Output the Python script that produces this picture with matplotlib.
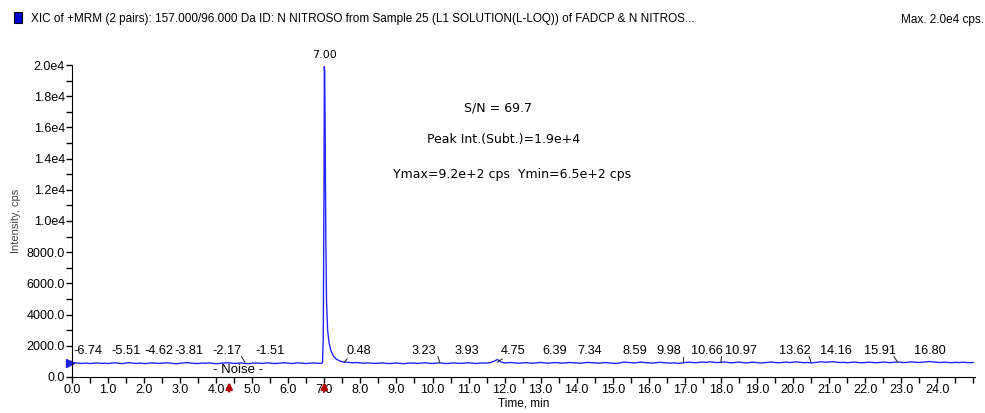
import matplotlib.pyplot as plt
from matplotlib.patches import Rectangle
from matplotlib.ticker import MultipleLocator, FuncFormatter
import numpy as np

narrow = ['Liberation Sans Narrow', 'Liberation Sans', 'DejaVu Sans']
plt.rcParams['font.family'] = narrow

# chromatogram (cps)
base_before = [930, 905, 880, 870, 895, 860, 885, 900, 870, 880,
               865, 890, 905, 875, 860, 900, 915, 880, 870, 890,
               860, 875, 905, 890, 870, 885, 910, 895, 865, 850,
               880, 905, 920, 890, 870, 860, 895, 880, 905, 875,
               850, 870, 890, 915, 895, 870, 880, 900, 865, 855,
               885, 900, 880, 870, 905, 890, 860, 875, 895, 910,
               880, 865, 890, 905, 875, 860, 885, 900, 880, 870]
peak_times = [6.95, 6.97, 6.99, 7.00, 7.01, 7.02, 7.04, 7.06, 7.09, 7.13,
              7.18, 7.25, 7.33, 7.42, 7.52]
peak_vals = [920, 2500, 12000, 19900, 19500, 16500, 9200, 4900, 3000, 2200,
             1700, 1350, 1150, 1030, 960]
base_after = [950, 930, 910, 925, 900, 880, 905, 890, 870, 885,
              900, 875, 860, 880, 895, 870, 855, 880, 900, 885,
              870, 895, 910, 880, 865, 890, 905, 875, 860, 885,
              900, 880, 870, 895, 910, 885, 865, 880, 900, 890,
              920, 1000, 1120, 960, 900, 915, 930, 895, 880, 905,
              920, 895, 880, 910, 935, 905, 885, 900, 925, 910,
              890, 905, 930, 915, 895, 880, 910, 935, 920, 900,
              885, 905, 925, 900, 880, 870, 895, 960, 940, 915,
              900, 935, 955, 920, 905, 890, 915, 940, 925, 900,
              885, 910, 870, 895, 925, 950, 930, 915, 940, 960,
              935, 975, 950, 920, 945, 965, 930, 910, 935, 955,
              925, 900, 930, 950, 920, 895, 915, 940, 960, 930,
              910, 935, 955, 925, 945, 970, 940, 915, 930, 900,
              925, 950, 975, 945, 960, 985, 950, 925, 940, 915,
              935, 955, 930, 910, 925, 950, 935, 910, 930, 955,
              940, 920, 945, 965, 940, 925, 950, 970, 945, 930,
              955, 975, 990, 960, 940, 925, 950, 935, 915, 940,
              925, 945, 930, 915, 930]

t_before = np.round(np.arange(len(base_before)) * 0.1, 2)
t_after = np.round(7.6 + np.arange(len(base_after)) * 0.1, 2)
time = np.concatenate([t_before, peak_times, t_after])
intensity = np.concatenate([base_before, peak_vals, base_after])

# peak labels as shown by the software: text, where the label sits, where its hook points
peak_labels = ['-6.74', '-5.51', '-4.62', '-3.81', '-2.17', '-1.51', '0.48', '3.23',
               '3.93', '4.75', '6.39', '7.34', '8.59', '9.98', '10.66', '10.97',
               '13.62', '14.16', '15.91', '16.80']
label_x = [0.45, 1.5, 2.4, 3.25, 4.3, 5.5, 7.95, 9.75, 10.95, 12.25, 13.4, 14.35,
           15.6, 16.55, 17.62, 18.55, 20.05, 21.2, 22.4, 23.8]
hook_x = [None, None, None, None, 4.8, None, 7.55, 10.2, None, 11.8, None, None,
          None, 16.95, 18.0, None, 20.5, None, 22.9, None]

fig = plt.figure(figsize=(9.85, 4.13), dpi=100)
ax = fig.add_axes([0.0731, 0.0872, 0.9168, 0.7554])

ax.plot(time, intensity, color='#2424ff', lw=1.0)
ax.plot([-0.05], [900], marker='>', color='#2020e0', ms=6, clip_on=False)

ax.set_xlim(0, 25.05)
ax.set_ylim(0, 20000)
for s in ['top', 'right']:
    ax.spines[s].set_visible(False)
ax.xaxis.set_major_locator(MultipleLocator(1.0))
ax.xaxis.set_minor_locator(MultipleLocator(0.5))
ax.yaxis.set_major_locator(MultipleLocator(2000))
ax.yaxis.set_minor_locator(MultipleLocator(1000))
ax.xaxis.set_major_formatter(FuncFormatter(lambda v, p: '%.1f' % v if v < 24.5 else ''))
ax.yaxis.set_major_formatter(FuncFormatter(lambda v, p: '%.1f' % v if v < 9000 else '%.1fe4' % (v / 1e4)))
ax.tick_params(which='both', direction='out', length=4, width=1, labelsize=9, pad=1)
ax.set_xlabel('Time, min', fontsize=8.5, labelpad=1)
ax.set_ylabel('Intensity, cps', fontsize=8, color='#444444', labelpad=4)

for txt, lx, hx in zip(peak_labels, label_x, hook_x):
    ax.text(lx, 1250, txt, ha='center', va='bottom', fontsize=9.2)
    if hx is not None:
        ex = lx + (0.4 if hx > lx else -0.32)
        ax.plot([ex, hx], [1300 if hx > lx else 1150, 950], color='#333333', lw=0.8)

ax.text(4.6, 450, '- Noise -', ha='center', va='center', fontsize=9.5)
for rx in [4.36, 7.0]:
    ax.annotate('', xy=(rx, -150), xytext=(rx, -1100), annotation_clip=False,
                arrowprops=dict(arrowstyle='-|>', color='#b00000', lw=1.8, mutation_scale=9))

ax.text(7.0, 20300, '7.00', ha='center', va='bottom', fontsize=8, family='DejaVu Sans')
ax.text(11.83, 17250, 'S/N = 69.7', ha='center', va='center', fontsize=9, family='DejaVu Sans')
ax.text(11.97, 15250, 'Peak Int.(Subt.)=1.9e+4', ha='center', va='center', fontsize=9, family='DejaVu Sans')
ax.text(12.2, 13000, 'Ymax=9.2e+2 cps  Ymin=6.5e+2 cps', ha='center', va='center', fontsize=9, family='DejaVu Sans')

fig.patches.append(Rectangle((14 / 985, 1 - 23 / 413), 8 / 985, 11 / 413, transform=fig.transFigure,
                             facecolor='#0000d0', edgecolor='black', lw=0.8))
fig.text(31 / 985, 1 - 19 / 413,
         'XIC of +MRM (2 pairs): 157.000/96.000 Da ID: N NITROSO from Sample 25 (L1 SOLUTION(L-LOQ)) of FADCP & N NITROS...',
         ha='left', va='center', fontsize=8.5)
fig.text(984 / 985, 1 - 20 / 413, 'Max. 2.0e4 cps.', ha='right', va='center', fontsize=8.5)

fig.savefig('out.png', dpi=100)
